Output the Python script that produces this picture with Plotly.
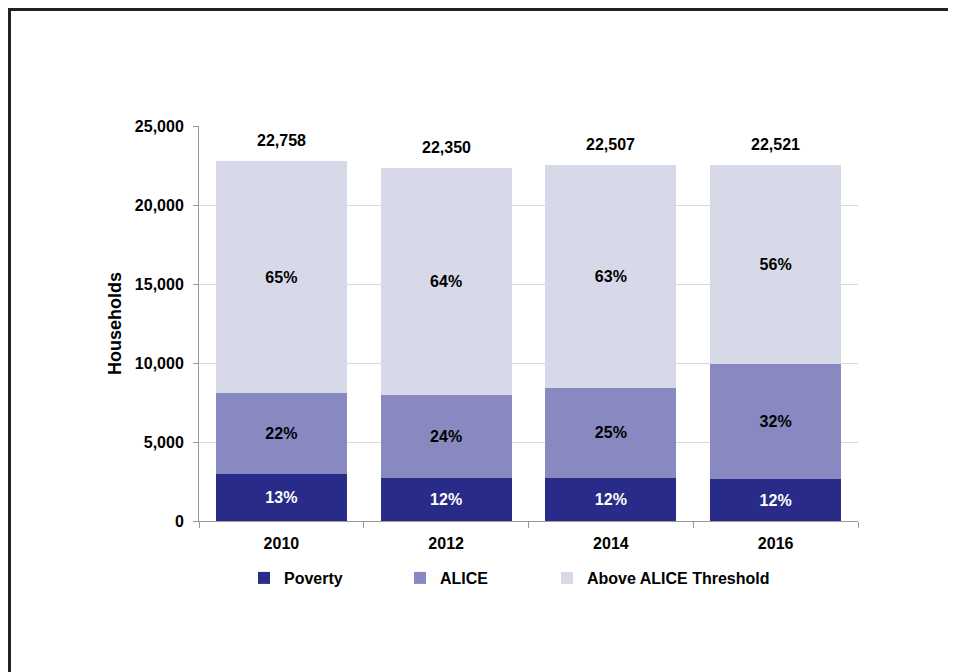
import plotly.graph_objects as go

years = ["2010", "2012", "2014", "2016"]
poverty = [3000, 2700, 2750, 2650]
alice = [5100, 5300, 5650, 7300]
above = [14658, 14350, 14107, 12571]
totals = [22758, 22350, 22507, 22521]
poverty_pct = ["13%", "12%", "12%", "12%"]
alice_pct = ["22%", "24%", "25%", "32%"]
above_pct = ["65%", "64%", "63%", "56%"]
y_ticks = [0, 5000, 10000, 15000, 20000, 25000]

FONT = "Liberation Sans, Arial, sans-serif"

# figure coordinates (page offset of 8 px from the body margin)
FW, FH = 948, 664
L, R, T, B = 191, 850, 118, 513
W, H = R - L, B - T

fig = go.Figure()
series = [
    ("Poverty", poverty, poverty_pct, "#282c88", "white", "legend", 244),
    ("ALICE", alice, alice_pct, "#8889c0", "black", "legend2", 400),
    ("Above ALICE Threshold", above, above_pct, "#d8d9e8", "black", "legend3", 547),
]
legend_layout = {}
for name, vals, pct, col, tcol, lg, lx in series:
    fig.add_trace(go.Bar(
        x=years, y=vals, name=name, text=pct,
        textposition="inside", insidetextanchor="middle",
        textfont=dict(family=FONT, size=16, color=tcol, weight="bold"),
        marker=dict(color=col, line=dict(width=0)),
        hoverinfo="skip", legend=lg,
    ))
    legend_layout[lg] = dict(
        orientation="h", x=(lx - 8 - L) / W, xanchor="left",
        y=(B - 570) / H, yanchor="middle",
        font=dict(family=FONT, size=16, color="black", weight="bold"),
        bgcolor="rgba(0,0,0,0)", itemclick=False, itemdoubleclick=False,
    )

for i, tot in enumerate(totals):
    fig.add_annotation(
        x=i, y=tot, text=f"{tot:,}", showarrow=False,
        yanchor="bottom", yshift=10,
        font=dict(family=FONT, size=16, color="black", weight="bold"),
    )

# outer frame
fig.add_shape(
    type="rect", xref="paper", yref="paper",
    x0=(1.5 - L) / W, x1=(945.5 - L) / W,
    y0=(B - 700) / H, y1=(B - 1.5) / H,
    line=dict(color="#222222", width=3), fillcolor="rgba(0,0,0,0)",
    layer="below",
)

fig.update_layout(
    width=FW, height=FH,
    margin=dict(l=L, r=FW - R, t=T, b=FH - B, autoexpand=False),
    paper_bgcolor="white", plot_bgcolor="white",
    barmode="stack", bargap=0.205,
    font=dict(family=FONT, size=16, color="black"),
    showlegend=True,
    **legend_layout,
)
fig.update_xaxes(
    type="category", showline=True, linecolor="#999999", linewidth=1,
    ticks="outside", tickson="boundaries", ticklen=6, tickcolor="#999999",
    ticklabelstandoff=8,
    tickfont=dict(family=FONT, size=16, color="black", weight="bold"),
    showgrid=False, fixedrange=True,
)
fig.update_yaxes(
    range=[0, 25000], tickvals=y_ticks, tickformat=",",
    showline=True, linecolor="#999999", linewidth=1,
    ticks="outside", ticklen=5, tickcolor="#999999",
    ticklabelstandoff=6,
    showgrid=True, gridcolor="#d9d9d9", gridwidth=1,
    zeroline=False,
    tickfont=dict(family=FONT, size=16, color="black", weight="bold"),
    title=dict(text="Households", standoff=8,
               font=dict(family=FONT, size=18, color="black", weight="bold")),
    fixedrange=True,
)

fig.write_html("out.html")
